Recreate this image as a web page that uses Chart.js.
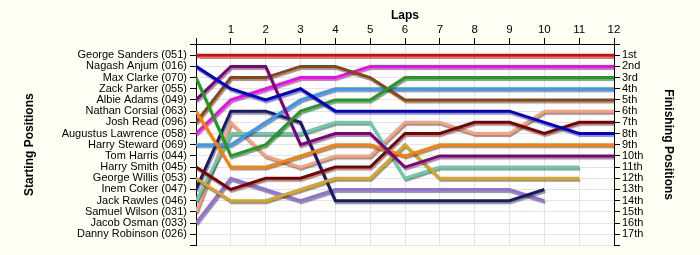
<!DOCTYPE html>
<html>
<head>
<meta charset="utf-8">
<script src="https://cdn.jsdelivr.net/npm/chart.js@4.4.1/dist/chart.umd.min.js"></script>
<style>
html,body{margin:0;padding:0;background:#fffff3;}
#wrap{width:700px;height:255px;position:relative;}
</style>
</head>
<body>
<div id="wrap"><canvas id="c" width="700" height="255"></canvas></div>
<script>
// Laps (x categories)
const laps = [0,1,2,3,4,5,6,7,8,9,10,11,12];
// Starting grid (left axis labels, positions 1..17)
const startNames = ["George Sanders (051)","Nagash Anjum (016)","Max Clarke (070)","Zack Parker (055)","Albie Adams (049)","Nathan Corsial (063)","Josh Read (096)","Augustus Lawrence (058)","Harry Steward (069)","Tom Harris (044)","Harry Smith (045)","George Willis (053)","Inem Coker (047)","Jack Rawles (046)","Samuel Wilson (031)","Jacob Osman (033)","Danny Robinson (026)"];
// Finishing positions (right axis labels)
const finishLabels = ["1st","2nd","3rd","4th","5th","6th","7th","8th","9th","10th","11th","12th","13th","14th","15th","16th","17th"];

// Position per lap for each driver
const georgeSanders    = [1,1,1,1,1,1,1,1,1,1,1,1,1];
const nagashAnjum      = [2,4,5,4,6,6,6,6,6,6,7,8,8];
const maxClarke        = [3,10,9,6,5,5,3,3,3,3,3,3,3];
const albieAdams       = [5,2,2,9,8,8,11,10,10,10,10,10,10];
const nathanCorsial    = [6,11,11,10,9,9,10,9,9,9,9,9,9];
const joshRead         = [7,3,3,2,2,3,5,5,5,5,5,5,5];
const augustusLawrence = [8,5,4,3,3,2,2,2,2,2,2,2,2];
const harrySteward     = [9,9,7,5,4,4,4,4,4,4,4,4,4];
const harrySmith       = [11,13,12,12,11,11,8,8,7,7,8,7,7];
const georgeWillis     = [12,14,14,13,12,12,9,12,12,12,12,12];
const inemCoker        = [13,6,6,7,14,14,14,14,14,14,13];
const jackRawles       = [14,8,8,8,7,7,12,11,11,11,11,11];
const samuelWilson     = [15,7,10,11,10,10,7,7,8,8,6,6,6];
const jacobOsman       = [16,12,13,14,13,13,13,13,13,13,14];

const series = [
  ["George Sanders (051)", georgeSanders, "#ee0000"],
  ["Nagash Anjum (016)", nagashAnjum, "#0000d0"],
  ["Max Clarke (070)", maxClarke, "#1e9e1e"],
  ["Albie Adams (049)", albieAdams, "#800080"],
  ["Nathan Corsial (063)", nathanCorsial, "#ff8000"],
  ["Josh Read (096)", joshRead, "#8b4513"],
  ["Augustus Lawrence (058)", augustusLawrence, "#ff00ff"],
  ["Harry Steward (069)", harrySteward, "#3399ff"],
  ["Harry Smith (045)", harrySmith, "#800000"],
  ["George Willis (053)", georgeWillis, "#daa520"],
  ["Inem Coker (047)", inemCoker, "#191970"],
  ["Jack Rawles (046)", jackRawles, "#66cdaa"],
  ["Samuel Wilson (031)", samuelWilson, "#ffa07a"],
  ["Jacob Osman (033)", jacobOsman, "#9370db"]
];

const datasets = series.map(([name, vals, col]) => ({
  label: name,
  data: vals.map((v, i) => ({x: laps[i], y: v})),
  borderColor: col,
  backgroundColor: col,
  borderWidth: 3,
  pointRadius: 0,
  tension: 0,
  fill: false,
  yAxisID: 'y'
}));
// invisible dataset to bind right axis
datasets.push({label: '', data: [], yAxisID: 'y2', borderWidth: 0, pointRadius: 0});

const FONT = "'Liberation Sans', Arial, sans-serif";

const bgPlugin = {
  id: 'bg',
  beforeDraw(chart) {
    const {ctx, chartArea: a} = chart;
    ctx.save();
    ctx.fillStyle = '#fffff3';
    ctx.fillRect(0, 0, chart.width, chart.height);
    ctx.fillStyle = '#ffffff';
    ctx.fillRect(a.left, a.top, a.right - a.left, a.bottom - a.top);
    ctx.restore();
  }
};
const shadowPlugin = {
  id: 'shadow',
  beforeDatasetDraw(chart) {
    const ctx = chart.ctx;
    ctx.save();
    ctx.shadowColor = 'rgba(60,60,60,0.55)';
    ctx.shadowOffsetX = 1;
    ctx.shadowOffsetY = 2;
    ctx.shadowBlur = 1;
  },
  afterDatasetDraw(chart) {
    chart.ctx.restore();
  }
};

new Chart(document.getElementById('c'), {
  type: 'line',
  data: { datasets },
  plugins: [bgPlugin, shadowPlugin],
  options: {
    responsive: false,
    animation: false,
    events: [],
    layout: { padding: { top: 0, bottom: 8, left: 0, right: 0 } },
    plugins: { legend: { display: false }, tooltip: { enabled: false } },
    scales: {
      x: {
        type: 'linear', position: 'top', min: 0, max: 12,
        afterFit(s) { s.height = 44; },
        ticks: { stepSize: 1, color: '#000', font: { family: FONT, size: 11.5 }, padding: 1,
          callback: v => v === 0 ? '' : String(v) },
        grid: { color: '#e4e4e4', tickColor: '#000', tickLength: 6, lineWidth: 1 },
        border: { color: '#000', width: 1 },
        title: { display: true, text: 'Laps', color: '#000', font: { family: FONT, size: 12, weight: 'bold' }, padding: { top: 8, bottom: 0 } }
      },
      y: {
        type: 'linear', position: 'left', min: 0, max: 18, reverse: true,
        afterFit(s) { s.width = 196; },
        ticks: { stepSize: 1, autoSkip: false, color: '#000', font: { family: FONT, size: 11 }, padding: 3,
          callback: v => (v >= 1 && v <= 17) ? startNames[v - 1] : '' },
        grid: { color: '#e4e4e4', tickColor: '#000', tickLength: 6, lineWidth: 1 },
        border: { color: '#000', width: 1 },
        title: { display: true, text: 'Starting Positions', color: '#000', font: { family: FONT, size: 12, weight: 'bold' }, padding: { top: 22, bottom: 0 } }
      },
      y2: {
        type: 'linear', position: 'right', min: 0, max: 18, reverse: true,
        afterFit(s) { s.width = 86; },
        ticks: { stepSize: 1, autoSkip: false, color: '#000', font: { family: FONT, size: 11 }, padding: 2,
          callback: v => (v >= 1 && v <= 17) ? finishLabels[v - 1] : '' },
        grid: { drawOnChartArea: false, tickColor: '#000', tickLength: 6 },
        border: { color: '#000', width: 1 },
        title: { display: true, text: 'Finishing Positions', color: '#000', font: { family: FONT, size: 12, weight: 'bold' }, padding: { top: 24, bottom: 0 } }
      }
    }
  }
});
</script>
</body>
</html>
